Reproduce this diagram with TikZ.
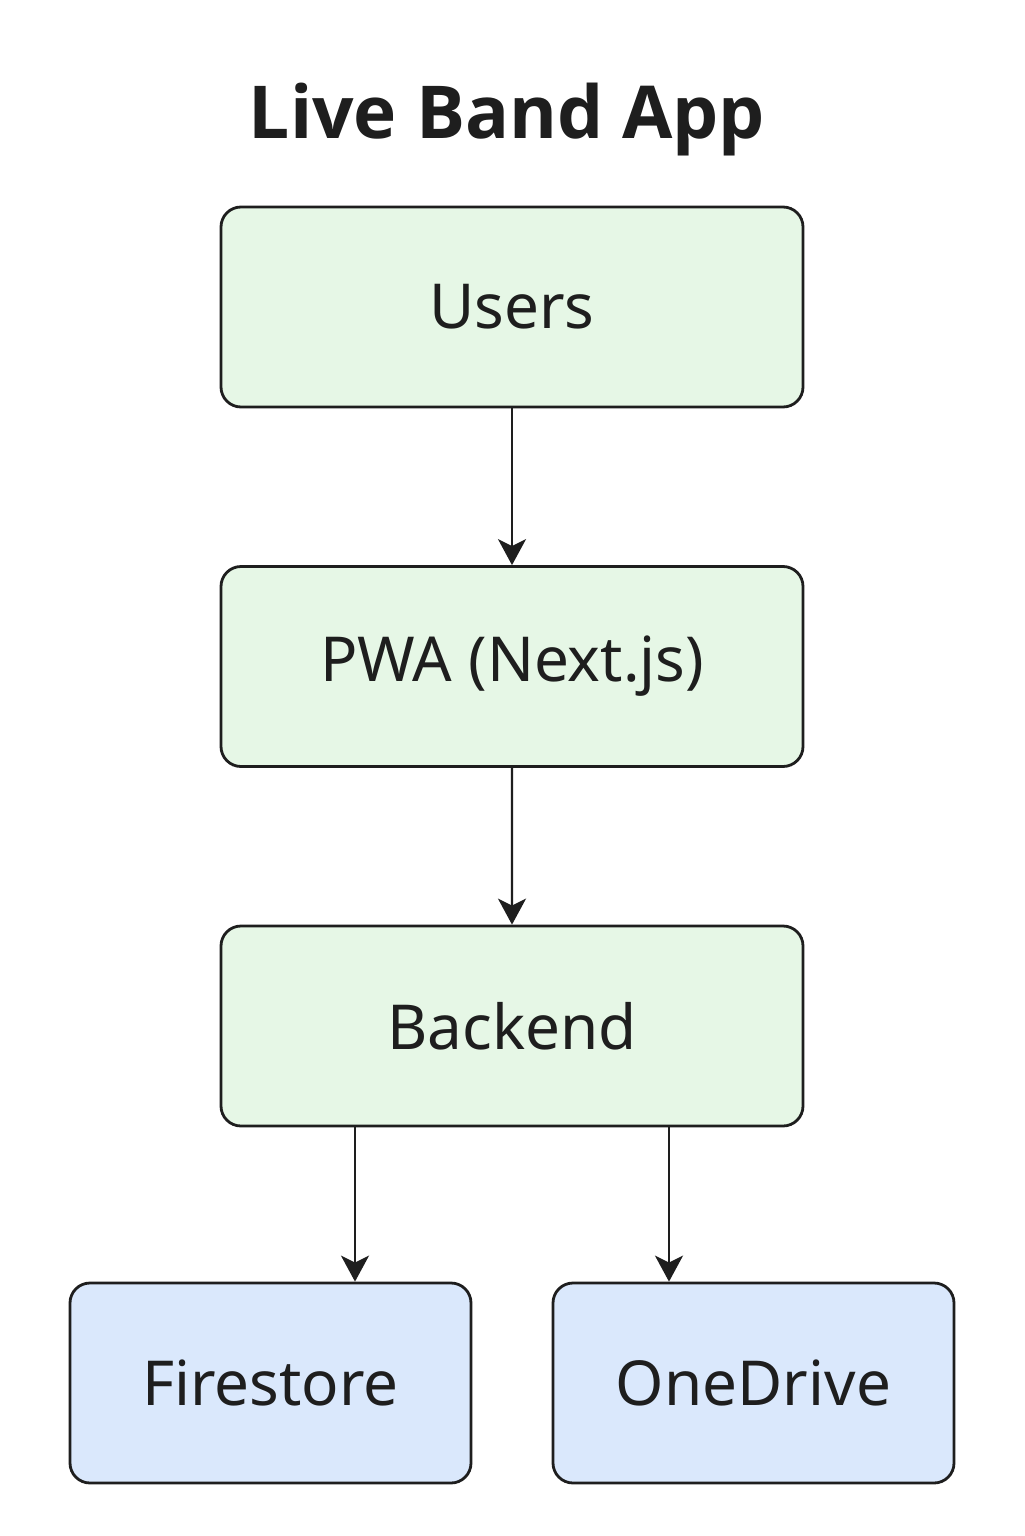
\documentclass[tikz,border=0pt]{standalone}
\usepackage{fontspec}
\setmainfont{Noto Sans}
\newfontfamily\titlefont{Open Sans}
\usetikzlibrary{trees,arrows.meta}

\definecolor{appgreen}{HTML}{E6F7E6}
\definecolor{storeblue}{HTML}{DAE8FC}
\definecolor{inkgray}{HTML}{1E1E1E}

\begin{document}
\begin{tikzpicture}[x=0.5pt, y=-0.5pt, grow=down,
    layer/.style={draw=inkgray, line width=1.4pt, rounded corners=10pt,
      fill=appgreen, minimum width=291pt, minimum height=100pt,
      font=\fontsize{31}{36}\selectfont, text=inkgray},
    store/.style={layer, fill=storeblue, minimum width=200.5pt},
    edge from parent/.style={draw=inkgray, line width=1.2pt,
      -{Stealth[length=13pt, width=14pt, inset=3.5pt]}},
    split/.style={edge from parent path={([xshift=#1]\tikzparentnode.south)
      -- ([xshift=#1]\tikzparentnode.south |- \tikzchildnode.north)}},
    level distance=179.75pt,
    level 3/.style={level distance=178.5pt, sibling distance=241.5pt}]
  \useasboundingbox[fill=white] (0,0) rectangle (1024,1536);
  \node[font=\titlefont\bfseries\fontsize{36.5}{42}\selectfont, text=inkgray] (title) at (507,120) {Live Band App};
  \path
    node[layer] (users) at (512,307) {Users}
    child {
      node[layer] (pwa) {PWA (Next.js)}
      child {
        node[layer] (backend) {Backend}
        child[split=-78.5pt] {
          node[store] (firestore) {Firestore}
        }
        child[split=78.5pt] {
          node[store] (onedrive) {OneDrive}
        }
      }
    };
\end{tikzpicture}
\end{document}
